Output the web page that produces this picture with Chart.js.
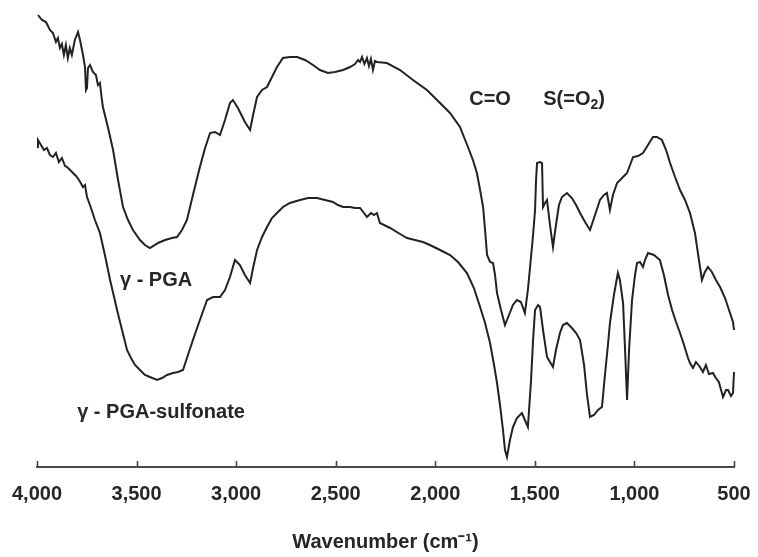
<!DOCTYPE html>
<html>
<head>
<meta charset="utf-8">
<script src="https://cdn.jsdelivr.net/npm/chart.js@4/dist/chart.umd.min.js"></script>
<style>
  html, body { margin: 0; padding: 0; background: #ffffff; }
  #wrap { width: 758px; height: 557px; position: relative; }
</style>
</head>
<body>
<div id="wrap"><canvas id="c" width="758" height="557"></canvas></div>
<script>
// ---- Data (x: wavenumber cm-1, y: transmittance, arbitrary units) ----
const pgaWavenumber = [3995,3975,3955,3935,3920,3905,3895,3885,3875,3865,3855,3845,3835,3825,3810,3794,3784,3769,3759,3754,3749,3744,3734,3719,3704,3694,3684,3674,3669,3643,3618,3593,3568,3543,3518,3483,3458,3433,3392,3357,3322,3297,3272,3247,3217,3182,3156,3131,3106,3081,3056,3031,3016,2991,2956,2930,2915,2895,2870,2845,2820,2795,2765,2730,2694,2654,2614,2579,2539,2504,2463,2428,2403,2388,2378,2368,2356,2343,2333,2323,2313,2303,2293,2243,2177,2112,2042,1976,1926,1876,1836,1811,1791,1775,1760,1750,1740,1725,1710,1700,1690,1670,1650,1630,1610,1590,1570,1550,1535,1524,1509,1499,1494,1489,1474,1464,1459,1449,1439,1424,1409,1394,1379,1364,1339,1314,1293,1273,1248,1223,1198,1173,1153,1138,1123,1108,1087,1062,1037,1022,1007,982,957,932,907,887,862,841,821,796,771,746,721,696,676,661,646,631,611,591,570,545,520,505,500];
const pgaT = [452,447,445,437,434,425,429,419,423,412,422,409,419,412,427,435,427,412,400,377,379,399,402,395,392,382,384,367,360,339,317,287,260,247,237,227,222,219,224,227,229,230,237,247,272,300,319,334,335,332,347,364,367,359,345,337,352,370,377,380,390,400,409,410,410,407,402,397,394,395,397,400,403,407,405,410,403,409,401,408,397,406,405,404,397,387,377,364,354,340,320,307,294,277,260,237,212,205,204,192,174,157,142,152,162,167,165,154,177,200,232,257,287,304,305,304,260,264,267,242,220,242,262,270,274,269,262,254,245,237,252,267,272,274,257,272,284,289,294,302,310,311,314,322,330,330,327,317,304,290,277,267,254,234,207,187,195,200,195,187,180,169,154,145,137];

const sulfWavenumber = [4000,3995,3980,3965,3950,3935,3920,3905,3890,3875,3859,3849,3834,3819,3804,3789,3769,3759,3749,3734,3709,3684,3659,3633,3613,3598,3573,3548,3528,3508,3483,3458,3433,3397,3372,3347,3317,3292,3267,3242,3217,3182,3146,3116,3081,3056,3031,3006,2981,2956,2930,2915,2895,2870,2845,2820,2795,2765,2730,2679,2639,2594,2554,2514,2489,2463,2428,2403,2378,2358,2343,2323,2308,2293,2278,2227,2177,2142,2102,2062,2027,1976,1926,1886,1841,1806,1775,1750,1725,1705,1690,1675,1660,1650,1640,1625,1610,1590,1565,1550,1535,1519,1509,1499,1484,1474,1459,1439,1424,1409,1394,1374,1359,1339,1314,1293,1273,1253,1238,1223,1203,1183,1163,1148,1133,1123,1103,1083,1073,1057,1047,1037,1027,1012,997,987,972,957,947,932,902,872,852,831,811,791,771,751,731,721,706,691,671,656,641,626,606,591,576,555,540,530,515,505,500];
const sulfT = [320,327,322,317,319,312,310,314,305,309,301,300,297,294,291,287,280,282,270,262,247,234,212,187,170,157,137,117,109,102,97,92,90,87,89,92,94,95,97,112,127,147,167,170,170,177,190,207,202,192,184,199,217,230,240,249,254,260,264,267,269,269,267,265,262,260,260,259,259,254,250,254,252,254,244,239,233,229,227,225,222,217,212,205,194,179,160,144,124,102,84,62,37,17,10,27,40,49,54,47,40,87,127,157,162,160,137,110,105,100,117,134,142,144,139,134,127,102,72,50,52,57,60,92,122,144,172,194,187,164,117,67,117,167,192,204,205,200,207,214,212,207,192,172,157,145,134,122,109,104,99,105,100,95,102,93,94,89,85,70,77,77,71,74,95];

const tickValues = [4000,3500,3000,2500,2000,1500,1000,500];
const tickLabels = ['4,000','3,500','3,000','2,500','2,000','1,500','1,000','500'];

// Text annotations anchored in data coordinates [wavenumber, transmittance]
const annotations = [
  { parts: [['C=O', 0]], at: [1725, 368] },
  { parts: [['S(=O', 0], ['2', 1], [')', 0]], at: [1303, 368] },
  { parts: [['\u03b3 - PGA', 0]], at: [3402, 187] },
  { parts: [['\u03b3 - PGA-sulfonate', 0]], at: [3377, 55] }
];

const FONT = '"Liberation Sans", Arial, Helvetica, sans-serif';
const INK = '#262626';

const zip = (xs, ys) => xs.map((x, i) => ({ x: x, y: ys[i] }));

const upTicksAndText = {
  id: 'upTicksAndText',
  afterDraw(chart) {
    const ctx = chart.ctx;
    const xs = chart.scales.x, ys = chart.scales.y;
    const base = chart.chartArea.bottom;
    ctx.save();
    ctx.strokeStyle = '#444';
    ctx.lineWidth = 1.6;
    tickValues.forEach(v => {
      const px = Math.round(xs.getPixelForValue(v)) + 0.5;
      ctx.beginPath();
      ctx.moveTo(px, base);
      ctx.lineTo(px, base - 6);
      ctx.stroke();
    });
    ctx.fillStyle = INK;
    ctx.textBaseline = 'middle';
    annotations.forEach(a => {
      const cx = xs.getPixelForValue(a.at[0]);
      const cy = ys.getPixelForValue(a.at[1]);
      let total = 0;
      a.parts.forEach(p => {
        ctx.font = 'bold ' + (p[1] ? 14 : 20) + 'px ' + FONT;
        total += ctx.measureText(p[0]).width;
      });
      let x = cx - total / 2;
      ctx.textAlign = 'left';
      a.parts.forEach(p => {
        ctx.font = 'bold ' + (p[1] ? 14 : 20) + 'px ' + FONT;
        ctx.fillText(p[0], x, cy + (p[1] ? 6 : 0));
        x += ctx.measureText(p[0]).width;
      });
    });
    ctx.restore();
  }
};

new Chart(document.getElementById('c'), {
  type: 'line',
  data: {
    datasets: [
      { label: '\u03b3 - PGA', data: zip(pgaWavenumber, pgaT) },
      { label: '\u03b3 - PGA-sulfonate', data: zip(sulfWavenumber, sulfT) }
    ].map(d => Object.assign(d, {
      borderColor: '#222222',
      borderWidth: 2,
      pointRadius: 0,
      tension: 0,
      fill: false,
      clip: false
    }))
  },
  options: {
    responsive: false,
    animation: false,
    layout: { padding: { left: 37, right: 24, top: 0, bottom: 0 } },
    plugins: { legend: { display: false }, tooltip: { enabled: false } },
    scales: {
      x: {
        type: 'linear',
        reverse: true,
        min: 500,
        max: 4000,
        afterBuildTicks: (s) => { s.ticks = tickValues.map(v => ({ value: v })); },
        afterFit: (s) => { s.height = 90; s.paddingLeft = 0; s.paddingRight = 0; },
        ticks: {
          autoSkip: false,
          maxRotation: 0,
          padding: 15,
          color: INK,
          font: { family: FONT, size: 20, weight: 'bold' },
          callback: (v) => tickLabels[tickValues.indexOf(v)]
        },
        grid: { display: true, drawOnChartArea: false, drawTicks: false },
        border: { display: true, color: '#4a4a4a', width: 2 },
        title: {
          display: true,
          text: 'Wavenumber (cm\u207b\u00b9)',
          color: INK,
          font: { family: FONT, size: 20, weight: 'bold' },
          padding: { top: 0, bottom: 3 }
        }
      },
      y: {
        display: false,
        min: 0,
        max: 467
      }
    }
  },
  plugins: [upTicksAndText]
});
</script>
</body>
</html>
